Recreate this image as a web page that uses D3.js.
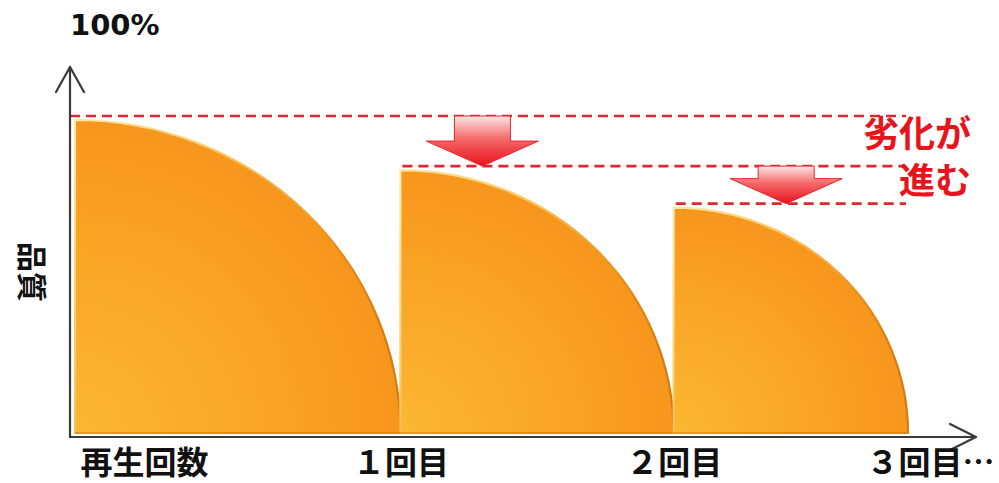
<!DOCTYPE html>
<html>
<head>
<meta charset="utf-8">
<script src="https://cdn.jsdelivr.net/npm/d3@7/dist/d3.min.js"></script>
<style>
  html, body { margin: 0; padding: 0; background: #ffffff; }
  svg { display: block; }
</style>
</head>
<body>
<svg id="chart" width="999" height="483"></svg>
<script>
// Quality remaining after each playback (percent of the original)
const stages = ["初回", "１回目", "２回目"];
const quality = [100, 84, 72];

// Labels along the playback-count axis
const tickLabels = ["再生回数", "１回目", "２回目", "３回目…"];
const yTopLabel = "100%";
const yAxisTitle = "品質";
const noteLines = ["劣化が", "進む"];

const svg = d3.select("#chart");

// Each quarter-ellipse is as wide as it is tall in quality units,
// so the x domain is the running total of the quality values.
const bounds = [0];
quality.forEach(q => bounds.push(bounds[bounds.length - 1] + q));

const x = d3.scaleLinear().domain([0, bounds[bounds.length - 1]]).range([75, 908]);
const y = d3.scaleLinear().domain([0, 100]).range([433, 120]);

const axisX = 70, axisY = 437;

const defs = svg.append("defs");

// Orange body fill: warm yellow at the lower left, deeper orange outward
const body = defs.append("radialGradient")
  .attr("id", "bodyFill")
  .attr("cx", 0).attr("cy", 1).attr("r", 1.25)
  .attr("fx", 0).attr("fy", 1);
body.append("stop").attr("offset", "0%").attr("stop-color", "#fbb833");
body.append("stop").attr("offset", "55%").attr("stop-color", "#f9a123");
body.append("stop").attr("offset", "100%").attr("stop-color", "#f68d17");

// Rim: pale highlight along the top, darker toward the curved edge
const rim = defs.append("linearGradient")
  .attr("id", "rimStroke")
  .attr("x1", 0).attr("y1", 0).attr("x2", 1).attr("y2", 0.6);
rim.append("stop").attr("offset", "0%").attr("stop-color", "#fee9a8");
rim.append("stop").attr("offset", "40%").attr("stop-color", "#fbc55a");
rim.append("stop").attr("offset", "80%").attr("stop-color", "#e48a16");
rim.append("stop").attr("offset", "100%").attr("stop-color", "#d67c12");

// Red arrow: pale at the shaft, full red at the tip
const arrowGrad = defs.append("linearGradient")
  .attr("id", "arrowFill")
  .attr("x1", 0).attr("y1", 0).attr("x2", 0).attr("y2", 1);
arrowGrad.append("stop").attr("offset", "0%").attr("stop-color", "#fde6e6");
arrowGrad.append("stop").attr("offset", "45%").attr("stop-color", "#f56a6a");
arrowGrad.append("stop").attr("offset", "100%").attr("stop-color", "#e8121c");

// Quarter-ellipse for each stage
const shapes = quality.map((q, i) => {
  const x0 = x(bounds[i]);
  const x1 = x(bounds[i + 1]);
  const yb = y(0);
  const yt = y(q);
  return { x0, x1, yb, yt, rx: x1 - x0, ry: yb - yt };
});

svg.append("g").selectAll("path")
  .data(shapes)
  .join("path")
  .attr("d", d => `M${d.x0},${d.yb} L${d.x0},${d.yt} A${d.rx},${d.ry} 0 0 1 ${d.x1},${d.yb} Z`)
  .attr("fill", "url(#bodyFill)")
  .attr("stroke", "url(#rimStroke)")
  .attr("stroke-width", 2.2)
  .attr("stroke-linejoin", "round");

// Thin darker line along the bottom of each body
svg.append("g").selectAll("line")
  .data(shapes)
  .join("line")
  .attr("x1", d => d.x0).attr("x2", d => d.x1)
  .attr("y1", d => d.yb).attr("y2", d => d.yb)
  .attr("stroke", "#e08a1a").attr("stroke-width", 1.5);

// Dashed red reference lines at each quality level
const dashEnd = 906;
svg.append("g").selectAll("line")
  .data(quality)
  .join("line")
  .attr("x1", (q, i) => i === 0 ? axisX : x(bounds[i]) + 2)
  .attr("x2", dashEnd)
  .attr("y1", q => y(q) - 4)
  .attr("y2", q => y(q) - 4)
  .attr("stroke", "#e0262e")
  .attr("stroke-width", 2.6)
  .attr("stroke-dasharray", "10,6");

// Down arrows showing the drop from one level to the next
const arrowCenters = [0.3, 0.48]; // position within the following stage, as a fraction of its width
const shaftHalf = 28, headHalf = 56, headLen = 25;
const arrows = quality.slice(1).map((q, k) => {
  const i = k + 1;
  const cx = x(bounds[i]) + arrowCenters[k] * (x(bounds[i + 1]) - x(bounds[i]));
  return { cx, top: y(quality[i - 1]) - 4, tip: y(q) - 4 };
});
svg.append("g").selectAll("path")
  .data(arrows)
  .join("path")
  .attr("d", a => {
    const neck = a.tip - headLen;
    return `M${a.cx - shaftHalf},${a.top} L${a.cx + shaftHalf},${a.top} L${a.cx + shaftHalf},${neck} ` +
           `L${a.cx + headHalf},${neck} L${a.cx},${a.tip} L${a.cx - headHalf},${neck} L${a.cx - shaftHalf},${neck} Z`;
  })
  .attr("fill", "url(#arrowFill)")
  .attr("stroke", "#e8222a")
  .attr("stroke-width", 1)
  .attr("stroke-linejoin", "miter");

// Axes with open arrowheads
const axisColor = "#3a3a3a";
const axes = svg.append("g").attr("fill", "none").attr("stroke", axisColor)
  .attr("stroke-width", 2.2).attr("stroke-linecap", "round").attr("stroke-linejoin", "round");
axes.append("line").attr("x1", axisX).attr("y1", axisY).attr("x2", axisX).attr("y2", 67);
axes.append("path").attr("d", `M${axisX - 14},92 L${axisX},67 L${axisX + 14},92`);
axes.append("line").attr("x1", axisX).attr("y1", axisY).attr("x2", 976).attr("y2", axisY);
axes.append("path").attr("d", `M950,${axisY - 13} L976,${axisY} L950,${axisY + 13}`);

// Playback-count labels at the stage boundaries
const xAxis = d3.axisBottom(x)
  .tickValues(bounds)
  .tickSize(0)
  .tickPadding(0)
  .tickFormat((d, i) => tickLabels[i]);
const gx = svg.append("g")
  .attr("transform", `translate(0,${axisY})`)
  .call(xAxis);
gx.select(".domain").remove();
gx.selectAll("text")
  .attr("font-family", "'Noto Sans CJK JP', sans-serif")
  .attr("font-weight", 700)
  .attr("font-size", 32)
  .attr("fill", "#111")
  .attr("dy", null)
  .attr("y", 37)
  .attr("text-anchor", (d, i) => i === 0 ? "start" : "middle")
  .attr("x", (d, i) => i === 0 ? 5 : (i === tickLabels.length - 1 ? 22 : 0));

// Top of the quality axis
svg.append("text")
  .attr("x", axisX).attr("y", 35)
  .attr("font-family", "'DejaVu Sans', Verdana, sans-serif")
  .attr("font-weight", 700)
  .attr("font-size", 29)
  .attr("fill", "#111")
  .text(yTopLabel);

// Vertical axis title
svg.append("text")
  .attr("transform", "translate(34,272) rotate(90)")
  .attr("text-anchor", "middle")
  .attr("dominant-baseline", "central")
  .attr("font-family", "'Noto Sans CJK JP', sans-serif")
  .attr("font-weight", 700)
  .attr("font-size", 30)
  .attr("fill", "#111")
  .text(yAxisTitle);

// Red note on the right
svg.append("g").selectAll("text")
  .data(noteLines)
  .join("text")
  .attr("x", 971)
  .attr("y", (d, i) => 147 + i * 47)
  .attr("text-anchor", "end")
  .attr("font-family", "'Noto Sans CJK JP', sans-serif")
  .attr("font-weight", 700)
  .attr("font-size", 36)
  .attr("fill", "#e8141c")
  .text(d => d);
</script>
</body>
</html>
